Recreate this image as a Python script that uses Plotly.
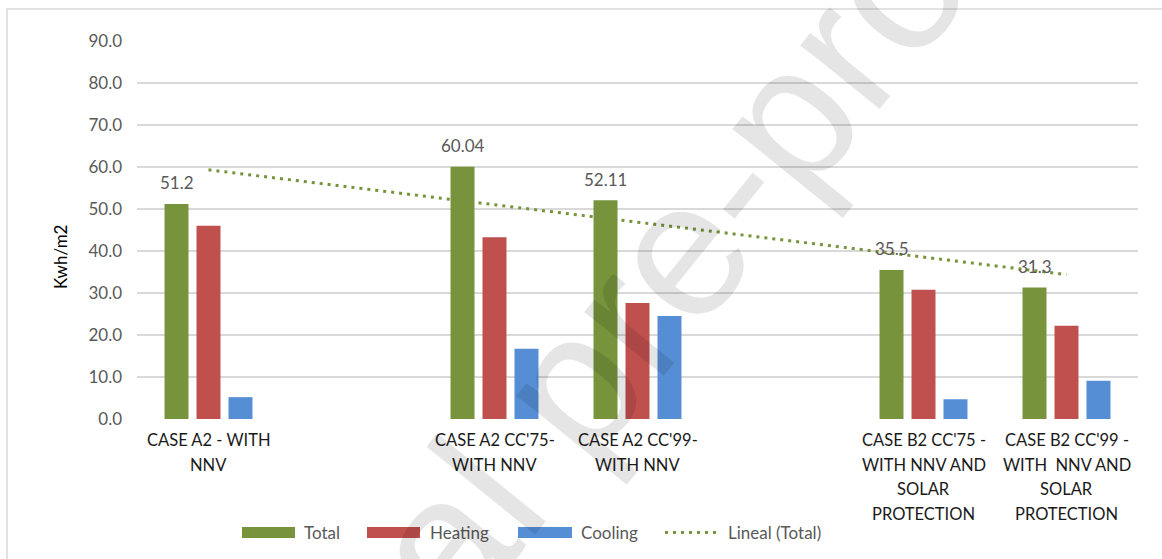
import numpy as np
import plotly.graph_objects as go

# Category slots (empty strings are spacer slots on the axis)
categories = [
    "CASE A2 - WITH<br>NNV",
    "",
    "CASE A2 CC'75-<br>WITH NNV",
    "CASE A2 CC'99-<br>WITH NNV",
    "",
    "CASE B2 CC'75 -<br>WITH NNV AND<br>SOLAR<br>PROTECTION",
    "CASE B2 CC'99 -<br>WITH  NNV AND<br>SOLAR<br>PROTECTION",
]
case_pos = [0, 2, 3, 5, 6]

total = [51.2, 60.04, 52.11, 35.5, 31.3]
heating = [46.0, 43.3, 27.6, 30.8, 22.2]
cooling = [5.2, 16.74, 24.5, 4.7, 9.1]

y_ticks = [0, 10, 20, 30, 40, 50, 60, 70, 80, 90]

GREEN = "#77933C"
RED = "#C0504D"
BLUE = "#558ED5"
GRID = "#D9D9D9"
FONT = "Lato"

W, H = 1162, 559
ML, MR, MT, MB = 137, 24, 41, 140
PW, PH = W - ML - MR, H - MT - MB


def px_x(px):
    return (px - ML) / PW


def px_y(py):
    return (H - MB - py) / PH


fig = go.Figure()
for name, vals, col in [("Total", total, GREEN), ("Heating", heating, RED), ("Cooling", cooling, BLUE)]:
    fig.add_trace(go.Bar(x=case_pos, y=vals, name=name, marker=dict(color=col, line=dict(width=0)),
                         showlegend=False))

# Linear trend of the totals over the category index
slope, intercept = np.polyfit(case_pos, total, 1)
trend_x = [case_pos[0], case_pos[-1]]
trend_y = [intercept + slope * v for v in trend_x]
fig.add_trace(go.Scatter(x=trend_x, y=trend_y, mode="lines", name="Lineal (Total)",
                         line=dict(color=GREEN, width=3, dash="3px,5px"), showlegend=False))

annotations = []
# value labels above the Total bars
for xp, v in zip(case_pos, total):
    annotations.append(dict(x=xp, y=v, xref="x", yref="y", text=f"{v:g}", showarrow=False,
                            xshift=-32, yshift=21, yanchor="middle",
                            font=dict(family=FONT, size=17, color="#595959")))

# category labels, one line at a time so the line spacing stays open
for i, lab in enumerate(categories):
    for j, line in enumerate(lab.split("<br>")):
        if not line:
            continue
        annotations.append(dict(x=i, y=px_y(440 + 24.5 * j), xref="x", yref="paper", text=line,
                                showarrow=False, xanchor="center", yanchor="middle",
                                font=dict(family=FONT, size=16.5, color="#1a1a1a")))

# y axis title
annotations.append(dict(x=px_x(60), y=px_y(257), xref="paper", yref="paper", text="Kwh/m2",
                        showarrow=False, textangle=-90, xanchor="center", yanchor="middle",
                        font=dict(family=FONT, size=17, color="#000000")))

# legend
shapes = []
legend_items = [
    ("Total", GREEN, 242, 295, 302, "bar"),
    ("Heating", RED, 367, 420, 428, "bar"),
    ("Cooling", BLUE, 518, 572, 579, "bar"),
    ("Lineal (Total)", GREEN, 665, 719, 726, "line"),
]
ly = 532.5
for label, col, x0, x1, tx, kind in legend_items:
    if kind == "bar":
        shapes.append(dict(type="rect", xref="paper", yref="paper", x0=px_x(x0), x1=px_x(x1),
                           y0=px_y(ly + 5.5), y1=px_y(ly - 5.5), fillcolor=col, line=dict(width=0)))
    else:
        shapes.append(dict(type="line", xref="paper", yref="paper", x0=px_x(x0), x1=px_x(x1),
                           y0=px_y(ly), y1=px_y(ly), line=dict(color=col, width=3, dash="3px,5px")))
    annotations.append(dict(x=px_x(tx), y=px_y(ly), xref="paper", yref="paper", text=label,
                            showarrow=False, xanchor="left", yanchor="middle",
                            font=dict(family=FONT, size=17, color="#595959")))

# chart area border
shapes.append(dict(type="rect", xref="paper", yref="paper", x0=px_x(7), x1=px_x(1180),
                   y0=px_y(580), y1=px_y(9), line=dict(color=GRID, width=1.5), fillcolor="rgba(0,0,0,0)",
                   layer="below"))

# watermark
annotations.append(dict(x=px_x(566), y=px_y(390), xref="paper", yref="paper",
                        text="Journal pre-proof", showarrow=False, textangle=-51,
                        xanchor="center", yanchor="middle",
                        font=dict(family="Liberation Sans", size=193, color="rgba(0,0,0,0.1)")))

fig.update_layout(
    width=W, height=H,
    margin=dict(l=ML, r=MR, t=MT, b=MB),
    paper_bgcolor="white", plot_bgcolor="white",
    barmode="group", bargap=0.329, bargroupgap=0.25,
    showlegend=False,
    annotations=annotations,
    shapes=shapes,
    xaxis=dict(range=[-0.5, 6.5], tickmode="array", tickvals=list(range(len(categories))),
               showticklabels=False, showgrid=False, zeroline=False, showline=False, ticks=""),
    yaxis=dict(range=[0, 90], tickmode="array", tickvals=y_ticks,
               ticktext=[f"{v:.1f}" for v in y_ticks], showgrid=True, gridcolor=GRID, gridwidth=1.5,
               zeroline=False, showline=False, ticks="", ticklabelstandoff=14,
               tickfont=dict(family=FONT, size=17, color="#595959")),
)

fig.write_html("out.html")
